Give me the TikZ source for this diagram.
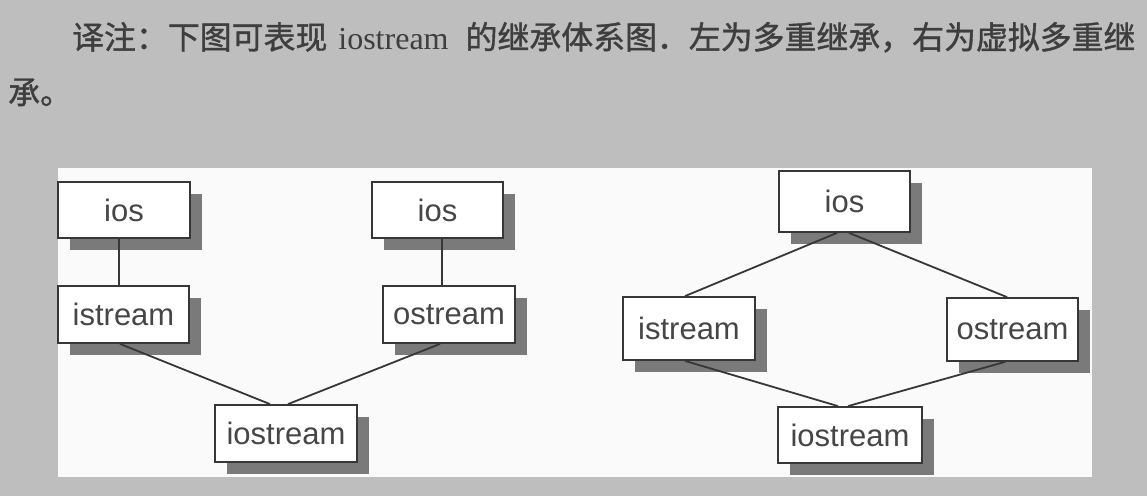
\documentclass[tikz,border=0pt]{standalone}
\usepackage{fontspec}
\setmainfont{Liberation Serif}
\newfontfamily\boxfont{Liberation Sans}
\newfontfamily\cjk[FakeBold=1.2]{Noto Sans CJK SC}
\usetikzlibrary{shadows}

\definecolor{pagegray}{RGB}{190,190,190}
\definecolor{panelwhite}{RGB}{250,250,250}
\definecolor{edgegray}{RGB}{55,55,55}
\definecolor{shadegray}{RGB}{122,122,122}
\definecolor{inkgray}{RGB}{62,62,62}
\definecolor{labelgray}{RGB}{70,70,70}

\tikzset{
  classbox/.style={draw=edgegray, line width=1.8pt, fill=white, inner sep=0pt,
    font=\boxfont\fontsize{31}{36}\selectfont, text=labelgray,
    drop shadow={shadow xshift=12pt, shadow yshift=-12pt, fill=shadegray, opacity=1}},
  link/.style={draw=edgegray, line width=1.8pt},
  note/.style={inner sep=0pt, text=inkgray}
}

\begin{document}
\begin{tikzpicture}[x=1pt, y=-1pt]
  % page and white panel
  \fill[pagegray] (0,0) rectangle (1147,496);
  \useasboundingbox (0,0) rectangle (1147,496);
  \fill[panelwhite] (58,168) rectangle (1092,477);

  % caption
  \node[note, anchor=base west] (cap1) at (72,49)
    {{\cjk\fontsize{31.9}{36}\selectfont 译注：下图可表现}\hspace{11pt}{\fontsize{32}{36}\selectfont iostream}\hspace{17pt}{\cjk\fontsize{31.9}{36}\selectfont 的继承体系图．左为多重继承，右为虚拟多重继}};
  \node[note, anchor=base west, font=\cjk\fontsize{31.9}{36}\selectfont] (cap2) at (8,104) {承。};

  % multiple inheritance
  \node[classbox, minimum width=132pt, minimum height=56pt] (ios1) at (124,210) {ios};
  \node[classbox, minimum width=131pt, minimum height=57pt] (istream1) at (123.5,314.5) {istream};
  \node[classbox, minimum width=131pt, minimum height=56pt] (ios2) at (437.5,210) {ios};
  \node[classbox, minimum width=132pt, minimum height=57pt] (ostream1) at (449,314.5) {ostream};
  \node[classbox, minimum width=142pt, minimum height=57pt] (iostream1) at (286,433.5) {iostream};

  % virtual multiple inheritance
  \node[classbox, minimum width=131pt, minimum height=61pt] (ios3) at (844.5,201.5) {ios};
  \node[classbox, minimum width=132pt, minimum height=63pt] (istream2) at (689,328.5) {istream};
  \node[classbox, minimum width=131pt, minimum height=63pt] (ostream2) at (1012.5,329.5) {ostream};
  \node[classbox, minimum width=144pt, minimum height=56pt] (iostream2) at (850,435) {iostream};

  % connectors
  \draw[link] ([xshift=-5pt]ios1.south) -- ([xshift=-4.5pt]istream1.north);
  \draw[link] ([xshift=4.5pt]ios2.south) -- ([xshift=-7pt]ostream1.north);
  \draw[link] ([xshift=-3.5pt]istream1.south) -- ([xshift=-16pt]iostream1.north);
  \draw[link] ([xshift=-9pt]ostream1.south) -- ([xshift=2pt]iostream1.north);

  \draw[link] ([xshift=-7.5pt]ios3.south) -- ([xshift=-4pt]istream2.north);
  \draw[link] ([xshift=4.5pt]ios3.south) -- ([xshift=-5.5pt]ostream2.north);
  \draw[link] ([xshift=-4pt]istream2.south) -- ([xshift=-12pt]iostream2.north);
  \draw[link] ([xshift=-7.5pt]ostream2.south) -- ([xshift=-2pt]iostream2.north);
\end{tikzpicture}
\end{document}
